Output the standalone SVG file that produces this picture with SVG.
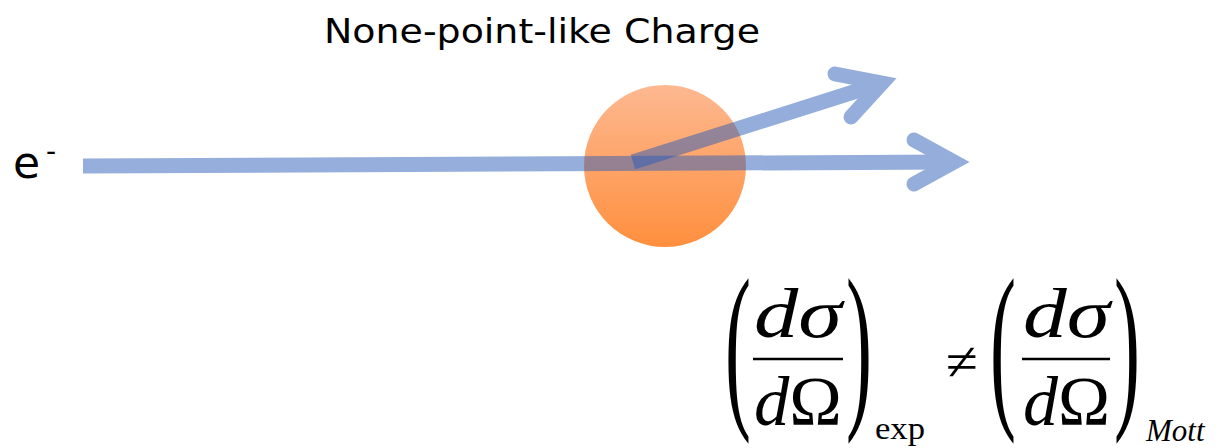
<svg xmlns="http://www.w3.org/2000/svg" width="1223" height="448" viewBox="0 0 1223 448">
  <defs>
    <linearGradient id="orange" x1="0" y1="0" x2="0" y2="1">
      <stop offset="0" stop-color="#FDB891"/>
      <stop offset="1" stop-color="#FF8F3E"/>
    </linearGradient>
  </defs>
  <style>
    .lbl { font-family: "DejaVu Sans", "Liberation Sans", sans-serif; fill: #000; }
    .math { font-family: "Liberation Serif", "Times New Roman", serif; fill: #000; }
    .it { font-style: italic; }
    .arrow { opacity: 0.5; }
    .shaft { stroke: #2B5DB9; stroke-width: 15; fill: none; stroke-linecap: butt; }
    .head { stroke: #2B5DB9; stroke-width: 15; fill: none; stroke-linecap: round; stroke-linejoin: miter; stroke-miterlimit: 10; }
    .bar { stroke: #000; stroke-width: 2.5; }
  </style>

  <g id="charge">
    <circle cx="665" cy="166" r="81" fill="url(#orange)"/>
  </g>

  <g id="title">
    <text class="lbl" x="324" y="43" font-size="34" textLength="436" lengthAdjust="spacingAndGlyphs">None-point-like Charge</text>
  </g>

  <g id="electron">
    <text class="lbl" x="13" y="178" font-size="44">e</text>
    <text class="lbl" x="46" y="161" font-size="28">-</text>
  </g>

  <g id="connectors">
    <g class="arrow" id="incident">
      <path class="shaft" d="M83,166 L954,162"/>
      <path class="head" d="M914,140 L954,162 L914,184"/>
    </g>
    <g class="arrow" id="scattered">
      <path class="shaft" d="M633,162 L882,83"/>
      <path class="head" d="M835,74 L882,83 L851,117"/>
    </g>
  </g>

  <g id="formula">
    <text class="math" font-size="78" transform="translate(725,405) scale(1,2.33)">(</text>
    <text class="math it" x="754" y="337" font-size="70" textLength="88" lengthAdjust="spacingAndGlyphs">dσ</text>
    <line class="bar" x1="753" y1="359" x2="843" y2="359"/>
    <text class="math" x="754" y="425" font-size="70" textLength="88" lengthAdjust="spacingAndGlyphs"><tspan class="it">d</tspan>Ω</text>
    <text class="math" font-size="78" transform="translate(846,405) scale(1,2.33)">)</text>
    <text class="math" x="875" y="439" font-size="32" textLength="50" lengthAdjust="spacingAndGlyphs">exp</text>

    <text class="math" x="946" y="380" font-size="54" textLength="32" lengthAdjust="spacingAndGlyphs">≠</text>

    <text class="math" font-size="78" transform="translate(990,405) scale(1,2.33)">(</text>
    <text class="math it" x="1023" y="337" font-size="70" textLength="87" lengthAdjust="spacingAndGlyphs">dσ</text>
    <line class="bar" x1="1022" y1="359" x2="1110" y2="359"/>
    <text class="math" x="1023" y="425" font-size="70" textLength="87" lengthAdjust="spacingAndGlyphs"><tspan class="it">d</tspan>Ω</text>
    <text class="math" font-size="78" transform="translate(1114,405) scale(1,2.33)">)</text>
    <text class="math it" x="1146" y="441" font-size="31">Mott</text>
  </g>
</svg>
